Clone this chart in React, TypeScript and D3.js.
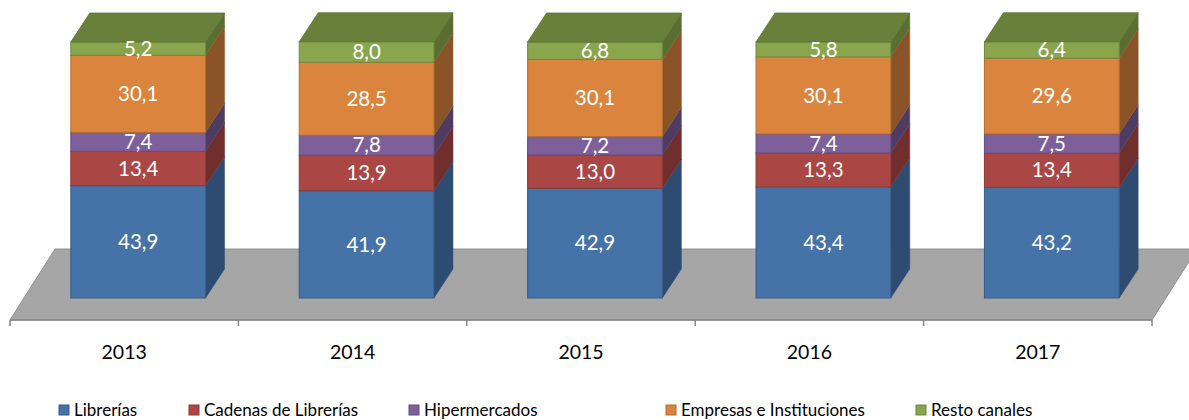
import React from 'react';
import * as d3 from 'd3';

const years = ['2013', '2014', '2015', '2016', '2017'];
const series = ['Librerías', 'Cadenas de Librerías', 'Hipermercados', 'Empresas e Instituciones', 'Resto canales'];
const librerias = [43.9, 41.9, 42.9, 43.4, 43.2];
const cadenas = [13.4, 13.9, 13.0, 13.3, 13.4];
const hiper = [7.4, 7.8, 7.2, 7.4, 7.5];
const empresas = [30.1, 28.5, 30.1, 30.1, 29.6];
const resto = [5.2, 8.0, 6.8, 5.8, 6.4];

const frontCol = ['#4572A7', '#AA4643', '#7D5F9A', '#DB843D', '#89A54E'];
const sideCol = ['#2E4C72', '#702E2C', '#4E3C63', '#8B5428', '#5B6E32'];
const strokeCol = ['#375C89', '#8A3936', '#654D7E', '#B56D31', '#6F873F'];
const topCol = '#68803A';

const W = 1189;
const H = 420;
const floorY = 320;
const floorDx = 45;
const floorDy = -71;
const barShift = 14; // bar front sits a bit behind the floor front edge
const barBottom = 298;
const depthDx = 19;
const depthDy = -29;

export default function App() {
  const x = d3.scaleBand<string>().domain(years).range([10, 1152]).paddingInner(0.41).paddingOuter(0.205);
  const y = d3.scaleLinear().domain([0, 100]).range([barBottom, 42]);
  const step = x.step();
  const values = [librerias, cadenas, hiper, empresas, resto];
  const fmt = (v: number) => v.toFixed(1).replace('.', ',');
  const font = 'Lato, "Open Sans", sans-serif';

  const stacked = d3.stack<number>().keys(d3.range(5).map(String)).value((i, k) => values[+k][i])(d3.range(years.length));

  const floorPts = [
    [10, floorY], [1152, floorY], [1152 + floorDx, floorY + floorDy], [10 + floorDx, floorY + floorDy],
  ].map(p => p.join(',')).join(' ');

  return (
    <svg width={W} height={H} style={{ position: 'absolute', left: 0, top: 0, background: '#fff' }}>
      <polygon points={floorPts} fill="#A6A6A6" stroke="#909090" strokeWidth={1} />
      <line x1={10} x2={1152} y1={floorY} y2={floorY} stroke="#868686" strokeWidth={1.5} />
      {d3.range(years.length + 1).map(i => {
        const tx = 10 + i * step;
        return <line key={i} x1={tx} x2={tx} y1={floorY} y2={floorY + 6} stroke="#868686" strokeWidth={1.5} />;
      })}
      {years.map((yr, i) => {
        const x0 = (x(yr) as number) + barShift;
        const x1 = x0 + x.bandwidth();
        return (
          <g key={yr}>
            {stacked.map((layer, s) => {
              const y0 = y(layer[i][0]);
              const y1 = y(layer[i][1]);
              const side = [[x1, y1], [x1 + depthDx, y1 + depthDy], [x1 + depthDx, y0 + depthDy], [x1, y0]]
                .map(p => p.join(',')).join(' ');
              return (
                <g key={s}>
                  <polygon points={side} fill={sideCol[s]} stroke={sideCol[s]} strokeWidth={0.5} />
                  <rect x={x0} y={y1} width={x1 - x0} height={y0 - y1} fill={frontCol[s]} stroke={strokeCol[s]} strokeWidth={1} />
                </g>
              );
            })}
            {(() => {
              const yt = y(stacked[4][i][1]);
              const top = [[x0, yt], [x0 + depthDx, yt + depthDy], [x1 + depthDx, yt + depthDy], [x1, yt]]
                .map(p => p.join(',')).join(' ');
              return <polygon points={top} fill={topCol} stroke="#5E7534" strokeWidth={0.8} />;
            })()}
            {stacked.map((layer, s) => {
              const ym = (y(layer[i][0]) + y(layer[i][1])) / 2;
              return (
                <text key={'t' + s} x={(x0 + x1) / 2} y={ym} dy="0.35em" textAnchor="middle" fill="#fff"
                  fontFamily={font} fontSize={20.5}>{fmt(values[s][i])}</text>
              );
            })}
            <text x={(x(yr) as number) + x.bandwidth() / 2} y={359} textAnchor="middle" fontFamily={font}
              fontSize={19.5} fill="#000">{yr}</text>
          </g>
        );
      })}
      {series.map((name, s) => {
        const lx = [59, 189, 409, 666, 916][s];
        return (
          <g key={name}>
            <rect x={lx} y={405} width={10} height={10} fill={frontCol[s]} stroke={strokeCol[s]} strokeWidth={1} />
            <text x={lx + 15} y={416} fontFamily={font} fontSize={17} fill="#000">{name}</text>
          </g>
        );
      })}
    </svg>
  );
}
